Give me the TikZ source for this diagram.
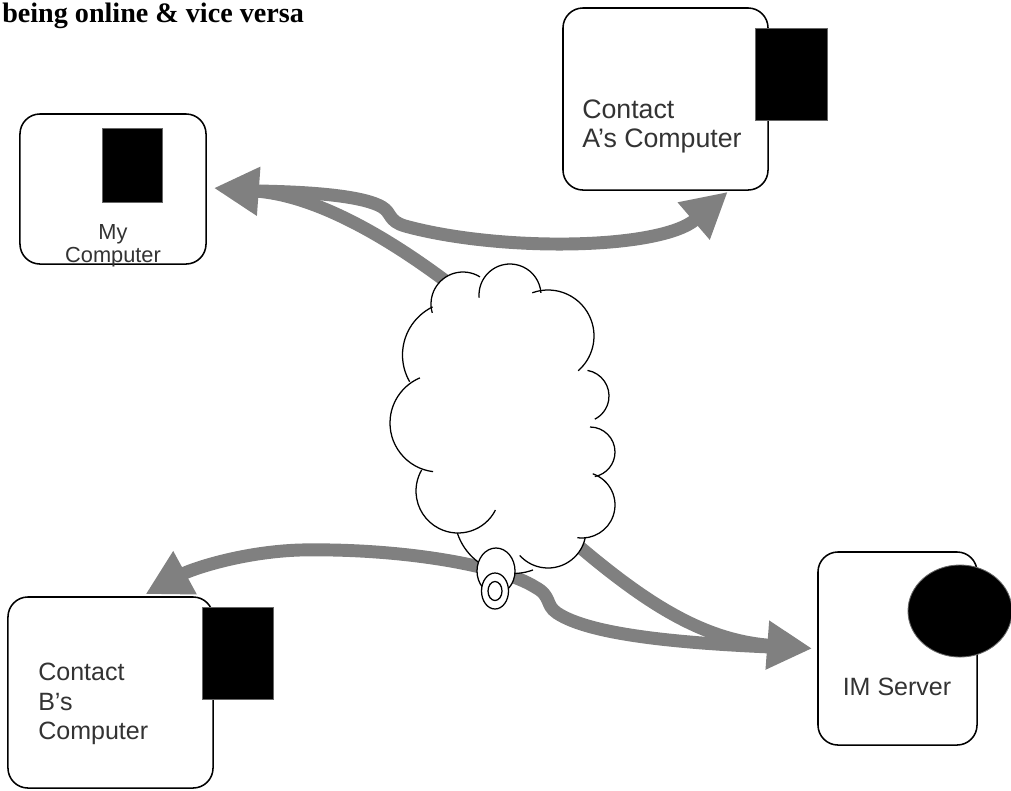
\documentclass[tikz,border=0pt]{standalone}
\usepackage{fontspec}
\setmainfont{Liberation Sans}
\newfontfamily\titlefont{Liberation Serif}
\usetikzlibrary{arrows.meta,shapes.geometric,calc}
\tikzset{
  pc/.style    = {draw, rounded corners=0.5cm, line width=1.1pt, fill=white,
                  inner sep=0pt},
  scr/.style   = {draw=black!60, fill=black, inner sep=0pt, line width=0.6pt},
  lbl/.style   = {font=\fontsize{17.8}{21}\selectfont, text=black!80,
                  inner sep=0pt},
  link/.style  = {draw=black!50, line width=9.2pt,
                  -{Triangle[length=1.125cm,width=1.15cm]}},
  puff/.style  = {line width=0.9pt},
  bub/.style   = {draw, ellipse, fill=white, line width=0.9pt, inner sep=0pt},
}
\def\puffs{463/304/32/164/302, 510/295/31/175/356, 548/336/46/250/409,
  583/396/26/280/423, 590/452/25/270/439, 582/505/33/289/458,
  548/530/38/12/138, 513/515/58.5/70/162, 458/491/42/27/210,
  439/423/49/97/247, 456/355/53.5/150/244}

\begin{document}
\begin{tikzpicture}[x=0.025cm, y=-0.025cm]
\useasboundingbox (0,0) rectangle (1011,790);

\node[anchor=base west, inner sep=0pt,
      font=\titlefont\bfseries\fontsize{20}{24}\selectfont] (title) at (2,22)
     {being online \& vice versa};

\node[pc, minimum width=4.65cm, minimum height=3.75cm] (mypc) at (113,189) {};
\node[scr, minimum width=1.5cm, minimum height=1.85cm] (mypc-scr) at (132,165) {};
\node[lbl, align=center, font=\fontsize{15.5}{16.5}\selectfont] (mypc-txt)
     at (113,246) {My\\Computer};

\node[pc, minimum width=5.125cm, minimum height=4.55cm] (conA) at (665.5,99) {};
\node[scr, minimum width=1.8cm, minimum height=2.3cm] (conA-scr) at (791,74) {};
\node[lbl, align=left, anchor=west, font=\fontsize{19}{20.6}\selectfont] (conA-txt)
     at (582,126) {Contact\\A’s Computer};

\node[pc, minimum width=5.125cm, minimum height=4.775cm] (conB) at (110.5,692.5) {};
\node[scr, minimum width=1.775cm, minimum height=2.3cm] (conB-scr) at (237.5,653) {};
\node[lbl, align=left, anchor=west] (conB-txt) at (38,704) {Contact\\B’s\\Computer};

\node[pc, minimum width=3.975cm, minimum height=4.825cm] (im) at (897.5,648.5) {};
\node[scr, ellipse, minimum width=2.6cm, minimum height=2.3cm] (im-disc) at (960,611) {};
\node[lbl] (im-txt) at (897,687) {IM Server};

\coordinate (netA) at (460,292);
\coordinate (netB) at (560,530);
\coordinate (jA) at (258,191);
\coordinate (jB) at (770,647);

\draw[link] (netA) .. controls (380,230) and (310,195) .. ($(mypc.east)+(7,-1)$);
\draw[link] (jA) .. controls (320,192) and (365,197) .. (382,207)
     .. controls (392,213) and (388,221) .. (405,226)
     .. controls (500,252) and (660,250) .. ($(conA.south east)+(-41,1)$);
\draw[link] (netB) .. controls (640,600) and (700,640) .. ($(im.west)+(-5,0)$);
\draw[link] (jB) .. controls (680,643) and (590,635) .. (557,613)
     .. controls (545,605) and (552,596) .. (535,587)
     .. controls (500,565) and (400,548) .. (300,550)
     .. controls (240,552) and (190,570) .. ($(conB.north)+(35,-2)$);

\fill[white] (432,313) \foreach \cx/\cy/\r/\a/\b in \puffs {
  -- ([shift={(\a:\r)}]\cx,\cy) arc[start angle=\a, end angle=\b, radius=\r] } -- cycle;
\foreach \cx/\cy/\r/\a/\b in \puffs
  \draw[puff] (\cx,\cy) ++(\a:\r) arc[start angle=\a, end angle=\b, radius=\r];

\node[bub, minimum width=0.95cm, minimum height=1.15cm] (bubA) at (496,571) {};
\node[bub, minimum width=0.675cm, minimum height=0.9cm] (bubB) at (495,591) {};
\node[bub, minimum width=0.35cm, minimum height=0.475cm] (bubC) at (495,591) {};
\end{tikzpicture}
\end{document}
